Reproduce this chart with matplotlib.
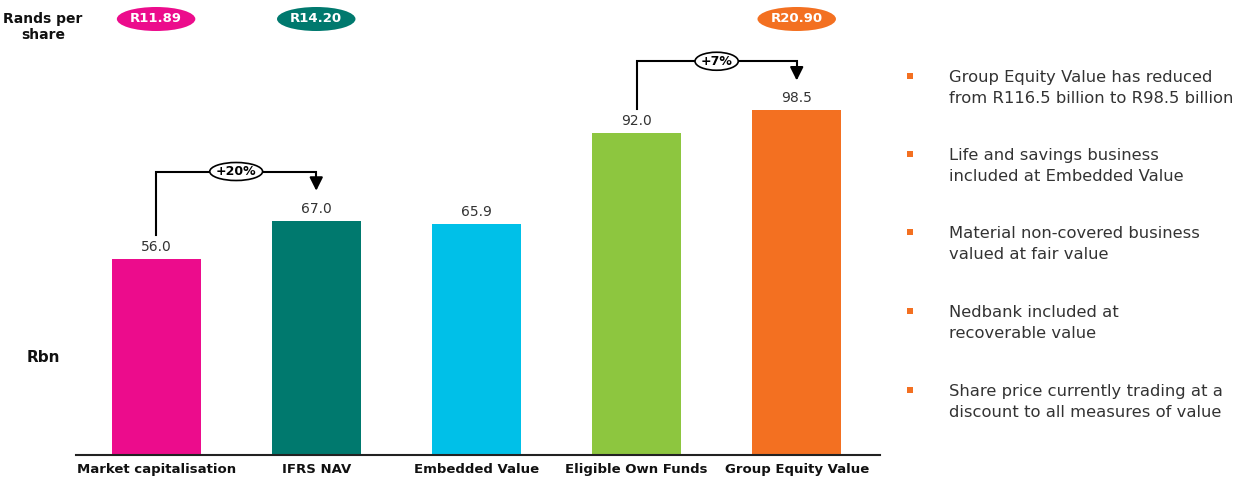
import matplotlib
matplotlib.use("Agg")
import matplotlib.pyplot as plt
from matplotlib.patches import Ellipse, Rectangle

categories = ["Market capitalisation", "IFRS NAV", "Embedded Value",
              "Eligible Own Funds", "Group Equity Value"]
values = [56.0, 67.0, 65.9, 92.0, 98.5]
colors = ["#EC0C8C", "#00796E", "#00C0E8", "#8DC63F", "#F37021"]
per_share_labels = ["R11.89", "R14.20", "R20.90"]
per_share_idx = [0, 1, 4]
changes = [("+20%", 0, 1), ("+7%", 3, 4)]
bullets = [
    "Group Equity Value has reduced\nfrom R116.5 billion to R98.5 billion",
    "Life and savings business\nincluded at Embedded Value",
    "Material non-covered business\nvalued at fair value",
    "Nedbank included at\nrecoverable value",
    "Share price currently trading at a\ndiscount to all measures of value",
]

W, H = 1249, 479
fig = plt.figure(figsize=(W / 100, H / 100), dpi=100)
plt.rcParams['font.family'] = ['DejaVu Sans']

ax_left, ax_right = 76 / W, 880 / W
ax_bottom = (H - 455) / H
ax_top = (H - 18) / H
ax = fig.add_axes([ax_left, ax_bottom, ax_right - ax_left, ax_top - ax_bottom])
ymax = (455 - 18) / 3.5
ax.set_ylim(0, ymax)
ax.set_xlim(-0.5, 4.52)
x = list(range(len(categories)))
ax.bar(x, values, width=0.555, color=colors, zorder=2)
for s in ["top", "right", "left"]:
    ax.spines[s].set_visible(False)
ax.spines["bottom"].set_linewidth(1.5)
ax.spines["bottom"].set_color("#222222")
ax.set_yticks([])
ax.set_xticks(x)
ax.set_xticklabels(categories, fontsize=9.5, fontweight="bold", color="#111111")
ax.tick_params(axis="x", length=0, pad=6)

for xi, v in zip(x, values):
    ax.text(xi, v + 1.4, f"{v:.1f}", ha="center", va="bottom", fontsize=10, color="#333333")

# change brackets
px_per_unit = 3.5
for label, i0, i1 in changes:
    v0, v1 = values[i0], values[i1]
    top = max(v0, v1) + 14.0
    start = v0 + 24 / px_per_unit
    tip = v1 + 27 / px_per_unit
    ax.plot([i0, i0, i1, i1], [start, top, top, tip + 2.4], color="black", lw=1.5,
            solid_joinstyle="miter", zorder=3, clip_on=False)
    ax.annotate("", xy=(i1, tip), xytext=(i1, tip + 3.2),
                arrowprops=dict(arrowstyle="-|>,head_width=0.4,head_length=0.8",
                                color="black", lw=1.5), annotation_clip=False)
    xm = (i0 + i1) / 2
    w = 0.33 if len(label) > 3 else 0.27
    ax.add_patch(Ellipse((xm, top), w, 18 / px_per_unit, facecolor="white",
                         edgecolor="black", lw=1.2, zorder=4, clip_on=False))
    ax.text(xm, top, label, ha="center", va="center", fontsize=9, fontweight="bold",
            zorder=5)

# per share ellipses
y_ps = (455 - 19) / px_per_unit
for lab, idx in zip(per_share_labels, per_share_idx):
    ax.add_patch(Ellipse((idx, y_ps), 0.49, 24 / px_per_unit, facecolor=colors[idx],
                         edgecolor="none", zorder=4, clip_on=False))
    ax.text(idx, y_ps, lab, ha="center", va="center", fontsize=9.5, fontweight="bold",
            color="white", zorder=5)

fig.text(43 / W, 1 - 27 / H, "Rands per\nshare", ha="center", va="center",
         fontsize=10, fontweight="bold", color="#111111", linespacing=1.2)
fig.text(43 / W, 1 - 357 / H, "Rbn", ha="center", va="center",
         fontsize=11, fontweight="bold", color="#111111")

# bullets
bullet_y = [88, 166, 244, 323, 402]
for by, txt in zip(bullet_y, bullets):
    fig.patches.append(Rectangle(((907) / W, 1 - (by - 12 + 3) / H), 6 / W, 6 / H,
                                 transform=fig.transFigure, facecolor="#F37021",
                                 edgecolor="none"))
    fig.text(949 / W, 1 - by / H, txt, ha="left", va="center", fontsize=11.8,
             color="#333333", linespacing=1.42)

fig.savefig("out.png", dpi=100)
